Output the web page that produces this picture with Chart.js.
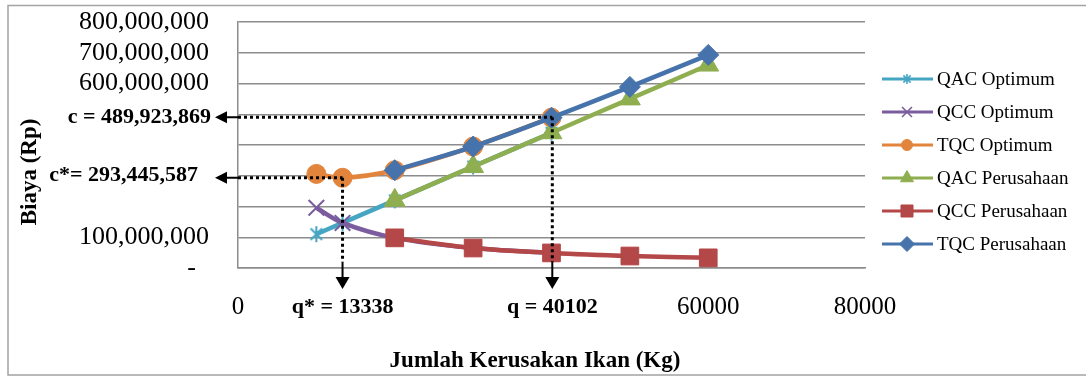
<!DOCTYPE html>
<html>
<head>
<meta charset="utf-8">
<script src="https://cdn.jsdelivr.net/npm/chart.js@4.4.1/dist/chart.umd.min.js"></script>
<style>
  html, body { margin: 0; padding: 0; background: #ffffff; }
  canvas { display: block; }
</style>
</head>
<body>
<canvas id="chart" width="1086" height="376"></canvas>
<script>
// Quantities (kg) and costs (Rp) for the optimum policy
const qOptimum   = [10000, 13338, 20000, 30000, 40000];
const qacOptimum = [110000000, 146700000, 220000000, 330000000, 440000000];
const qccOptimum = [196000000, 146700000, 98000000, 65000000, 49000000];
const tqcOptimum = [306000000, 293445587, 318000000, 395000000, 489000000];

// Quantities (kg) and costs (Rp) for the company's current policy
const qPerusahaan   = [20000, 30000, 40000, 50000, 60000];
const qacPerusahaan = [220000000, 330000000, 440000000, 550000000, 660000000];
const qccPerusahaan = [98000000, 65000000, 49000000, 39000000, 33000000];
const tqcPerusahaan = [318000000, 395000000, 489000000, 589000000, 693000000];

const seriesNames = ['QAC Optimum', 'QCC Optimum', 'TQC Optimum',
                     'QAC Perusahaan', 'QCC Perusahaan', 'TQC Perusahaan'];

// Tick labels that are printed (others are left blank)
const yLabelValues = [0, 100000000, 600000000, 700000000, 800000000];
const yLabelTexts  = ['-  ', '100,000,000', '600,000,000', '700,000,000', '800,000,000'];
const xLabelValues = [0, 60000, 80000];
const xLabelTexts  = ['0', '60000', '80000'];

// Marked points: optimum (q*, c*) and company (q, c)
const qStar = 13338, cStar = 293445587;
const qCompany = 40102, cCompany = 489923869;

const axisTitleX = 'Jumlah Kerusakan Ikan (Kg)';
const axisTitleY = 'Biaya (Rp)';

const FONT = 'Liberation Serif';
const colors = ['#46A5C3', '#7B5C9E', '#E2843C', '#8FAE50', '#B44747', '#4673AB'];

function pairs(xs, ys) { return xs.map((x, i) => ({ x: x, y: ys[i] })); }

// Excel-like asterisk marker (vertical stroke plus an X)
function asterisk(size, color, lw) {
  const c = document.createElement('canvas');
  c.width = size; c.height = size;
  const g = c.getContext('2d');
  g.strokeStyle = color; g.lineWidth = lw;
  const m = size / 2, r = size / 2 - 1, d = r * 0.72;
  g.beginPath();
  g.moveTo(m, m - r); g.lineTo(m, m + r);
  g.moveTo(m - d, m - d); g.lineTo(m + d, m + d);
  g.moveTo(m + d, m - d); g.lineTo(m - d, m + d);
  g.stroke();
  return c;
}
const starBig = asterisk(18, colors[0], 2);
const starSmall = asterisk(12, colors[0], 1.6);

const markers = [
  { style: starBig,    radius: 9,  bw: 2,   legendStyle: starSmall,  legendRadius: 6 },
  { style: 'crossRot', radius: 11, bw: 2,   legendStyle: 'crossRot', legendRadius: 7 },
  { style: 'circle',   radius: 9.5, bw: 1,  legendStyle: 'circle',   legendRadius: 5.5 },
  { style: 'triangle', radius: 12, bw: 1,   legendStyle: 'triangle', legendRadius: 7.5 },
  { style: 'rect',     radius: 12.5, bw: 1, legendStyle: 'rect',     legendRadius: 8.5 },
  { style: 'rectRot',  radius: 10.5, bw: 1, legendStyle: 'rectRot',  legendRadius: 7.5 }
];

const seriesData = [
  pairs(qOptimum, qacOptimum), pairs(qOptimum, qccOptimum), pairs(qOptimum, tqcOptimum),
  pairs(qPerusahaan, qacPerusahaan), pairs(qPerusahaan, qccPerusahaan), pairs(qPerusahaan, tqcPerusahaan)
];

const datasets = seriesNames.map((name, i) => ({
  label: name,
  data: seriesData[i],
  borderColor: colors[i],
  backgroundColor: colors[i],
  pointBackgroundColor: colors[i],
  pointBorderColor: colors[i],
  pointStyle: markers[i].style,
  pointRadius: markers[i].radius,
  pointBorderWidth: markers[i].bw,
  borderWidth: 4.5,
  tension: 0.33,
  fill: false,
  order: seriesNames.length - i   // later series are painted on top
}));

// Frame, axis titles, guide arrows and legend
const decorations = {
  id: 'decorations',
  beforeDraw(chart) {
    const ctx = chart.ctx;
    ctx.save();
    ctx.strokeStyle = '#a3a3a3';
    ctx.lineWidth = 1.5;
    ctx.strokeRect(8, 5.5, 1200, 369.5);
    ctx.restore();
  },
  afterDatasetsDraw(chart) {
    const ctx = chart.ctx;
    const xs = chart.scales.x, ys = chart.scales.y;
    const left = chart.chartArea.left, bottom = chart.chartArea.bottom;
    ctx.save();
    [[qStar, cStar], [qCompany, cCompany]].forEach(([q, c]) => {
      const px = xs.getPixelForValue(q);
      const py = ys.getPixelForValue(c);
      ctx.strokeStyle = '#000'; ctx.fillStyle = '#000';
      // dotted guides to the point
      ctx.lineWidth = 3;
      ctx.setLineDash([3, 3]);
      ctx.beginPath();
      ctx.moveTo(left, py); ctx.lineTo(px, py);
      ctx.moveTo(px, py); ctx.lineTo(px, bottom - 6);
      ctx.stroke();
      ctx.setLineDash([]);
      // solid arrow shafts
      ctx.lineWidth = 2;
      ctx.beginPath();
      ctx.moveTo(left, py); ctx.lineTo(left - 12, py);
      ctx.moveTo(px, bottom - 6); ctx.lineTo(px, bottom + 11);
      ctx.stroke();
      // arrow heads
      ctx.beginPath();
      ctx.moveTo(left - 23, py); ctx.lineTo(left - 11, py - 6); ctx.lineTo(left - 11, py + 6);
      ctx.closePath(); ctx.fill();
      ctx.beginPath();
      ctx.moveTo(px, bottom + 21); ctx.lineTo(px - 7, bottom + 9); ctx.lineTo(px + 7, bottom + 9);
      ctx.closePath(); ctx.fill();
    });

    // value labels for the marked points
    ctx.font = 'bold 22px "' + FONT + '"';
    ctx.textBaseline = 'middle';
    ctx.textAlign = 'right';
    ctx.fillText('c = ' + cCompany.toLocaleString('en-US'), 211, ys.getPixelForValue(cCompany));
    ctx.fillText('c*= ' + cStar.toLocaleString('en-US'), 198, ys.getPixelForValue(cStar) - 2);
    ctx.textAlign = 'center';
    ctx.fillText('q* = ' + qStar, xs.getPixelForValue(qStar), 307);
    ctx.fillText('q = ' + qCompany, xs.getPixelForValue(qCompany), 307);
    ctx.restore();
  },
  afterDraw(chart) {
    const ctx = chart.ctx;
    ctx.save();
    // axis titles
    ctx.fillStyle = '#000';
    ctx.font = 'bold 23px "' + FONT + '"';
    ctx.textAlign = 'center';
    ctx.textBaseline = 'middle';
    ctx.fillText(axisTitleX, 535, 361);
    ctx.save();
    ctx.translate(30, 172);
    ctx.rotate(-Math.PI / 2);
    ctx.fillText(axisTitleY, 0, 0);
    ctx.restore();

    // legend
    const lx0 = 882, lx1 = 933, mx = 907, tx = 937;
    seriesNames.forEach((name, i) => {
      const y = 79 + 33 * i;
      ctx.strokeStyle = colors[i];
      ctx.fillStyle = colors[i];
      ctx.lineWidth = 3;
      ctx.beginPath(); ctx.moveTo(lx0, y); ctx.lineTo(lx1, y); ctx.stroke();
      ctx.lineWidth = markers[i].bw === 2 ? 1.6 : 1;
      Chart.helpers.drawPoint(ctx, {
        pointStyle: markers[i].legendStyle,
        radius: markers[i].legendRadius,
        rotation: 0,
        borderWidth: ctx.lineWidth
      }, mx, y);
      ctx.fillStyle = '#000';
      ctx.font = '19px "' + FONT + '"';
      ctx.textAlign = 'left';
      ctx.textBaseline = 'middle';
      ctx.fillText(name, tx, y + 1);
    });
    ctx.restore();
  }
};

Chart.defaults.font.family = FONT;
Chart.defaults.color = '#000';

new Chart(document.getElementById('chart'), {
  type: 'line',
  data: { datasets: datasets },
  options: {
    responsive: false,
    animation: false,
    devicePixelRatio: 1,
    layout: { padding: { left: 0, right: 221, top: 22, bottom: 0 } },
    plugins: { legend: { display: false }, tooltip: { enabled: false } },
    scales: {
      x: {
        type: 'linear',
        min: 0, max: 80000,
        afterFit(s) { s.height = 108; },
        ticks: {
          stepSize: 20000, autoSkip: false, maxRotation: 0, padding: 0,
          font: { size: 25 }, color: '#000',
          callback(v) { const k = xLabelValues.indexOf(v); return k >= 0 ? xLabelTexts[k] : ''; }
        },
        grid: { display: false, drawOnChartArea: false, drawTicks: true, tickLength: 24, tickColor: 'rgba(0,0,0,0)' },
        border: { display: true, color: '#8c8c8c', width: 1.5 }
      },
      y: {
        min: 0, max: 800000000,
        afterFit(s) { s.width = 238; },
        ticks: {
          stepSize: 100000000, autoSkip: false, padding: 0,
          font: { size: 26 }, color: '#000',
          callback(v) { const k = yLabelValues.indexOf(v); return k >= 0 ? yLabelTexts[k] : ''; }
        },
        grid: { color: '#8c8c8c', lineWidth: 1.5, drawTicks: true, tickLength: 29, tickColor: 'rgba(0,0,0,0)' },
        border: { display: true, color: '#8c8c8c', width: 1.5 }
      }
    }
  },
  plugins: [decorations]
});
</script>
</body>
</html>
